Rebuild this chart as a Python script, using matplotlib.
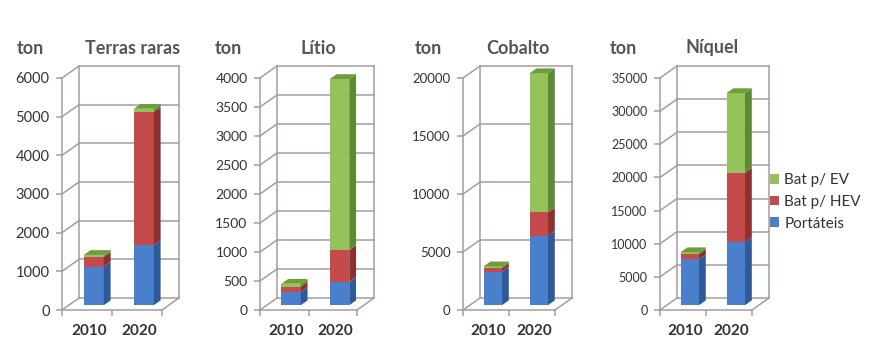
import numpy as np
import matplotlib
matplotlib.use('Agg')
import matplotlib.pyplot as plt
from matplotlib.patches import Polygon, Patch

# ── Data ─────────────────────────────────────────────────────────
categories = ['2010', '2020']
titles = ['Terras raras', 'Lítio', 'Cobalto', 'Níquel']
series_names = ['Portáteis', 'Bat p/ HEV', 'Bat p/ EV']

portateis = [[1000, 1550], [230, 400], [2900, 6000], [6900, 9500]]
bat_hev   = [[250, 3450], [90, 550], [300, 2000], [800, 10500]]
bat_ev    = [[50, 80], [50, 2950], [150, 12000], [300, 12000]]

y_max  = [6000, 4000, 20000, 35000]
y_step = [1000, 500, 5000, 5000]

# ── Styling ──────────────────────────────────────────────────────
plt.rcParams['font.family'] = ['Lato', 'DejaVu Sans']

W, H = 873, 353
AX_LEFT  = [62, 260, 463, 660]     # front axis x (px)
AX_WIDTH = [100, 97, 92, 92]
AX_BOT, AX_H = 310, 232            # front floor y (px from top), height
TON_X   = [30, 228, 428, 623]
TITLE_X = [133, 318, 518, 712]
TICK_FS = [10.5, 10, 9.5, 9]

DEPTH_X, DEPTH_Y = 17, 12          # back wall offset (px)
Z0, Z1 = 0.4, 0.8                  # bar depth span
BAR_W = 0.4

GRID  = '#a59d9d'
TXT   = '#333333'
TITLE = '#555555'
FRONT = ['#4a7fcc', '#c44a4b', '#93c35a']
SIDE  = ['#2f5a99', '#8e2f30', '#5f8a34']
TOP_GREEN = '#6e9e3c'

fig = plt.figure(figsize=(W / 100, H / 100), dpi=100)
fig.patch.set_facecolor('white')

for p in range(4):
    ax = fig.add_axes([AX_LEFT[p] / W, (H - AX_BOT) / H, AX_WIDTH[p] / W, AX_H / H])
    ax.set_facecolor('none')
    ymax = y_max[p]
    ax.set_xlim(0, 2)
    ax.set_ylim(0, ymax)
    dxu = DEPTH_X / AX_WIDTH[p] * 2
    dyu = DEPTH_Y / AX_H * ymax

    for s in ['top', 'right']:
        ax.spines[s].set_visible(False)
    for s in ['left', 'bottom']:
        ax.spines[s].set_color(GRID)
        ax.spines[s].set_linewidth(1.1)

    ticks = np.arange(0, ymax + 1, y_step[p])
    ax.set_yticks(ticks)
    ax.set_yticklabels([f'{int(t)}' for t in ticks])
    ax.tick_params(axis='y', length=4, width=1.1, color=GRID, pad=5,
                   labelsize=TICK_FS[p], labelcolor=TXT)
    ax.set_xticks([0, 1, 2], minor=True)
    ax.tick_params(axis='x', which='minor', length=4, width=1.1, color=GRID)
    ax.set_xticks([0.55, 1.55], categories)
    ax.tick_params(axis='x', which='major', length=0, pad=10,
                   labelsize=11, labelcolor=TXT)
    for lbl in ax.get_xticklabels():
        lbl.set_fontweight('bold')

    # back wall + left wall
    kw = dict(color=GRID, lw=1.1, clip_on=False, zorder=1)
    for t in ticks:
        ax.plot([dxu, 2 + dxu], [t + dyu, t + dyu], **kw)
        ax.plot([0, dxu], [t, t + dyu], **kw)
    ax.plot([dxu, dxu], [dyu, ymax + dyu], **kw)
    ax.plot([2 + dxu, 2 + dxu], [dyu, ymax + dyu], **kw)
    ax.plot([2, 2 + dxu], [0, dyu], **kw)

    # stacked pseudo-3D bars
    vals = [portateis[p], bat_hev[p], bat_ev[p]]
    for j in range(len(categories)):
        xc = j + 0.5 + Z0 * dxu
        xl, xr = xc - BAR_W / 2, xc + BAR_W / 2
        bottom = 0
        for k in range(3):
            v = vals[k][j]
            b0 = bottom + Z0 * dyu
            ax.bar(xc, v, width=BAR_W, bottom=b0, color=FRONT[k],
                   linewidth=0, clip_on=False, zorder=3)
            side = [(xr, b0), (xr + (Z1 - Z0) * dxu, b0 + (Z1 - Z0) * dyu),
                    (xr + (Z1 - Z0) * dxu, b0 + v + (Z1 - Z0) * dyu), (xr, b0 + v)]
            ax.add_patch(Polygon(side, closed=True, facecolor=SIDE[k],
                                 edgecolor='none', clip_on=False, zorder=3))
            bottom += v
        tt = bottom + Z0 * dyu
        top = [(xl, tt), (xr, tt), (xr + (Z1 - Z0) * dxu, tt + (Z1 - Z0) * dyu),
               (xl + (Z1 - Z0) * dxu, tt + (Z1 - Z0) * dyu)]
        ax.add_patch(Polygon(top, closed=True, facecolor=TOP_GREEN,
                             edgecolor='none', clip_on=False, zorder=3))

    fig.text(TON_X[p] / W, 1 - 48 / H, 'ton', ha='center', va='center',
             fontsize=13, fontweight='bold', color=TITLE)
    fig.text(TITLE_X[p] / W, 1 - 48 / H, titles[p], ha='center', va='center',
             fontsize=13, fontweight='bold', color=TITLE)

handles = [Patch(facecolor=FRONT[k], edgecolor='none') for k in (2, 1, 0)]
fig.legend(handles, [series_names[k] for k in (2, 1, 0)],
           loc='center left', bbox_to_anchor=(762 / W, 1 - 202 / H),
           frameon=False, fontsize=11, labelcolor=TXT,
           handlelength=0.6, handleheight=0.6, handletextpad=0.35,
           labelspacing=0.5, borderpad=0)

fig.savefig('out.png', dpi=100, facecolor='white')
